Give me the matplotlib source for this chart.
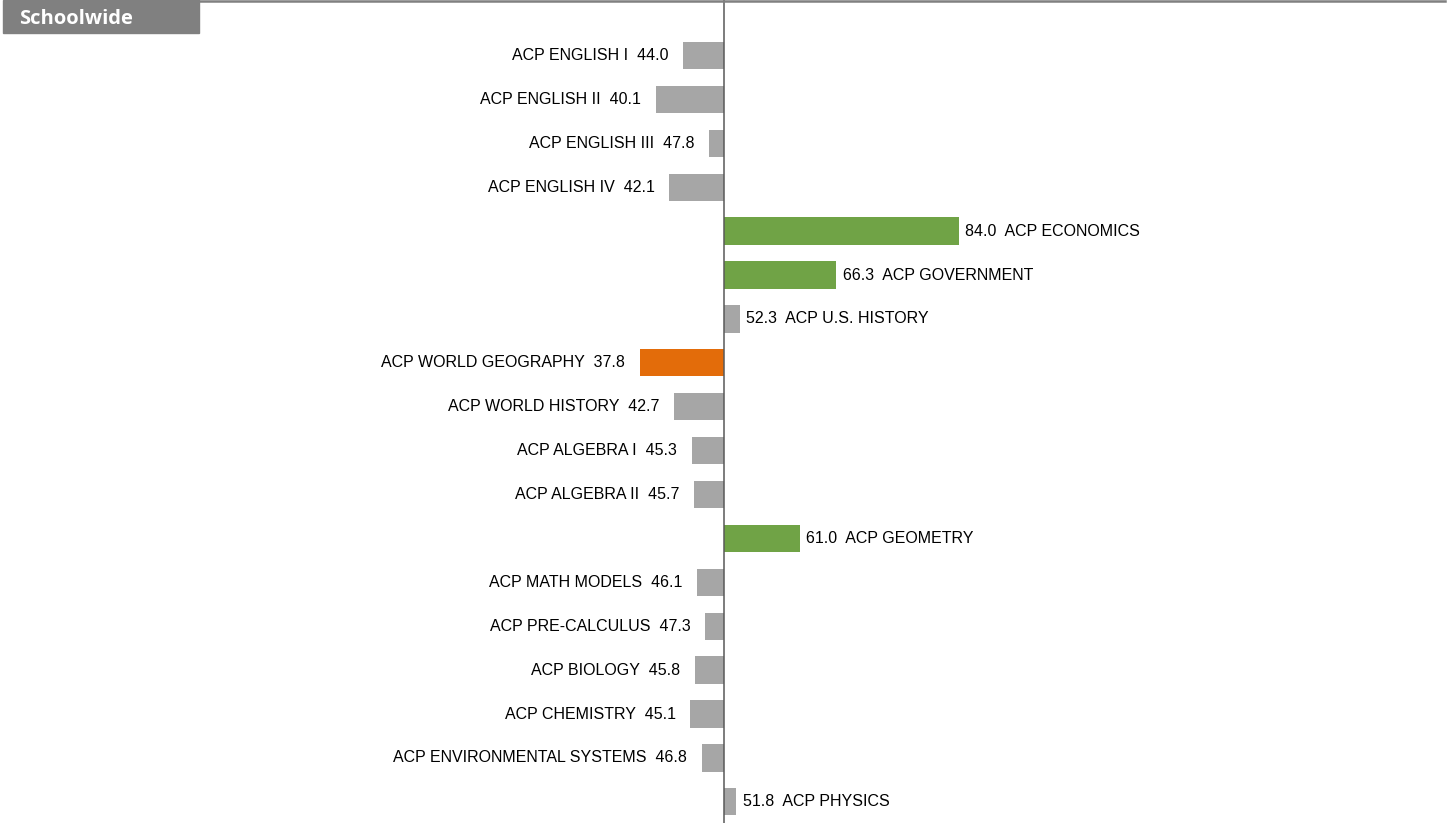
import matplotlib
matplotlib.use("Agg")
import matplotlib.pyplot as plt

# Course scores, centred on 50
courses = ["ACP ENGLISH I", "ACP ENGLISH II", "ACP ENGLISH III", "ACP ENGLISH IV",
           "ACP ECONOMICS", "ACP GOVERNMENT", "ACP U.S. HISTORY",
           "ACP WORLD GEOGRAPHY", "ACP WORLD HISTORY", "ACP ALGEBRA I",
           "ACP ALGEBRA II", "ACP GEOMETRY", "ACP MATH MODELS",
           "ACP PRE-CALCULUS", "ACP BIOLOGY", "ACP CHEMISTRY",
           "ACP ENVIRONMENTAL SYSTEMS", "ACP PHYSICS"]
scores = [44.0, 40.1, 47.8, 42.1, 84.0, 66.3, 52.3, 37.8, 42.7, 45.3,
          45.7, 61.0, 46.1, 47.3, 45.8, 45.1, 46.8, 51.8]
baseline = 50.0
title = "Schoolwide"

GREY = "#A6A6A6"
GREEN = "#70A346"
ORANGE = "#E36C0A"


def bar_color(v):
    if v >= 60:
        return GREEN
    if v < 40:
        return ORANGE
    return GREY


W, H = 1452, 823
fig = plt.figure(figsize=(W / 100, H / 100), dpi=100)
ax = fig.add_axes([0, 0, 1, 1])

px_per_unit = 6.9
center_px = 724
ax.set_xlim(baseline - center_px / px_per_unit,
            baseline + (W - center_px) / px_per_unit)
row_gap = 43.9
first_row = 55.5
ax.set_ylim((H - first_row) / row_gap, -first_row / row_gap)
ax.axis("off")

ypos = list(range(len(courses)))
ax.barh(ypos, [s - baseline for s in scores], left=baseline, height=0.62,
        color=[bar_color(s) for s in scores], zorder=2)

for y, name, s in zip(ypos, courses, scores):
    if s < baseline:
        ax.annotate(f"{name}  {s:.1f}", (s, y), xytext=(-10.5, 0),
                    textcoords="offset points", ha="right", va="center",
                    fontsize=11.5, family="Liberation Sans", color="#000000")
    else:
        ax.annotate(f"{s:.1f}  {name}", (s, y), xytext=(4.5, 0),
                    textcoords="offset points", ha="left", va="center",
                    fontsize=11.5, family="Liberation Sans", color="#000000")

# baseline axis
ax.axvline(baseline, color="#595959", lw=1.1, zorder=3)

# header strip
fig.add_artist(plt.Line2D([198 / W, 1445 / W], [1 - 1 / H, 1 - 1 / H],
                          color="#808080", lw=1.8, transform=fig.transFigure))
fig.add_artist(plt.Rectangle((3 / W, 1 - 33 / H), 196 / W, 33 / H,
                             color="#808080", transform=fig.transFigure))
fig.text(19 / W, 1 - 18.5 / H, title, color="white", fontsize=14.5,
         fontweight="bold", family="Open Sans", va="center", ha="left")

fig.savefig("out.png", dpi=100)
